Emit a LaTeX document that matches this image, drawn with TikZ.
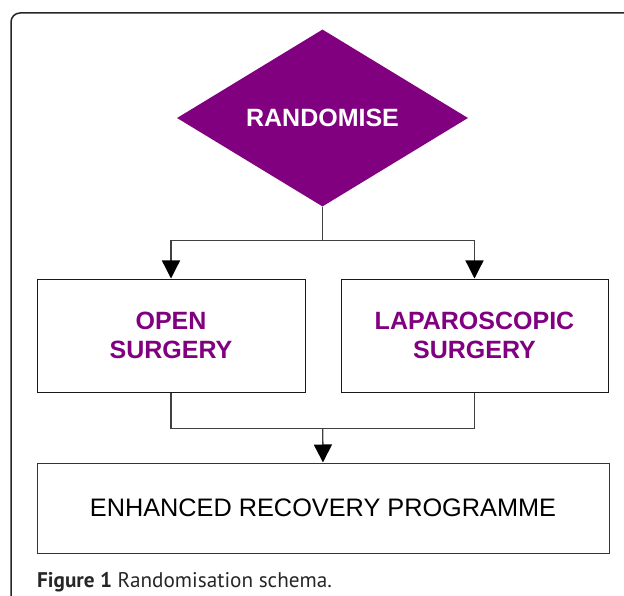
\documentclass[tikz,border=0pt]{standalone}
\usepackage{fontspec}
\setmainfont{Liberation Sans}
\newfontfamily\capfont{PT Sans}
\usepackage{tikz}
\usetikzlibrary{calc,shapes.geometric,arrows.meta}
\usepackage{xcolor}
\definecolor{plum}{HTML}{800080}

\begin{document}
\begin{tikzpicture}[x=1pt,y=-1pt,
  armbox/.style={draw=black!90, line width=1pt, minimum width=268pt, minimum height=113pt, inner sep=0pt, align=center, text=plum, font=\fontsize{25}{29}\selectfont\bfseries},
  link/.style={draw=black!75, line width=1.3pt},
  tip/.style={-{Triangle[width=18pt,length=18pt,color=black,fill=black]}}]
\useasboundingbox (0,0) rectangle (624,596);
\draw [line width=1.5pt, black!85, rounded corners=9pt] (11,600) -- (11,13) -- (630,13);
\node [diamond, fill=plum, minimum width=291pt, minimum height=177pt, inner sep=0pt, text=white, font=\fontsize{25}{29}\selectfont\bfseries] (rand) at (322.5,118) {RANDOMISE};
\node [armbox] (open) at (171,335.5) {OPEN\\SURGERY};
\node [armbox, minimum width=267pt] (lap) at (474.5,335.5) {LAPAROSCOPIC\\SURGERY};
\node [draw=plum, line width=1pt, minimum width=572pt, minimum height=90pt, inner sep=0pt, font=\fontsize{25.3}{29}\selectfont] (erp) at (323,508) {ENHANCED RECOVERY PROGRAMME};
\draw [link] (rand.south) -- ++(0,34) coordinate(split);
\draw [link, tip] (split) -| (open.north);
\draw [link, tip] (split) -| (lap.north);
\draw [link] (open.south) |- ($(open.south)!0.5!(lap.south)+(0,36)$) coordinate(merge) -| (lap.south);
\draw [link, tip] (merge) -- (erp.north);
\node [anchor=base west, inner sep=0pt, text=black!85, font=\capfont\fontsize{21.2}{24}\selectfont] (cap) at (37,587) {\textbf{Figure 1} Randomisation schema.};
\end{tikzpicture}
\end{document}
